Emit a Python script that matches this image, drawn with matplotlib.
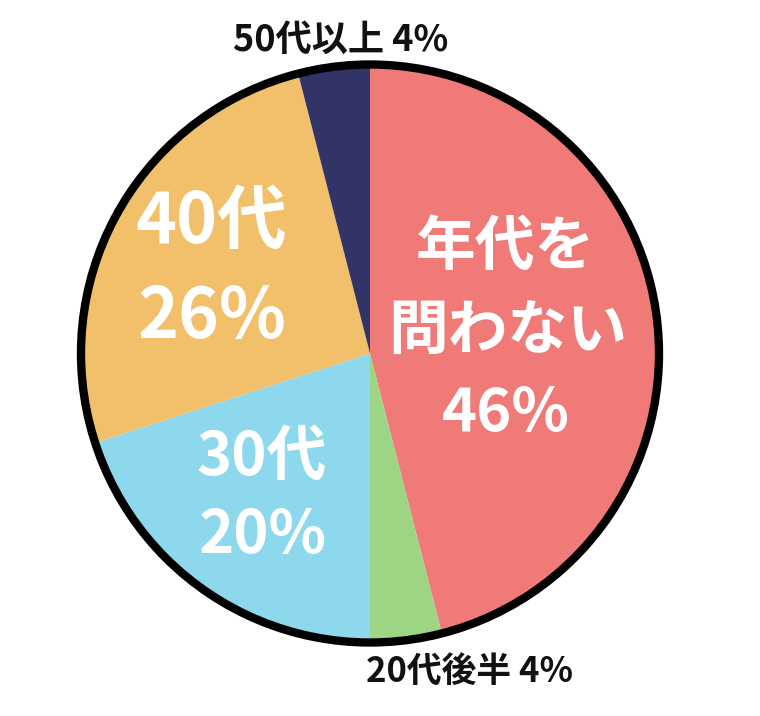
import matplotlib
matplotlib.use("Agg")
import matplotlib.pyplot as plt
from matplotlib.patches import Circle

plt.rcParams['font.family'] = ['Noto Sans CJK JP', 'DejaVu Sans']

categories = ["年代を問わない", "20代後半", "30代", "40代", "50代以上"]
values = [46, 4, 20, 26, 4]
colors = ["#EF7A78", "#9DD585", "#8ED8EE", "#F2BF6A", "#323468"]

W, H = 760, 716
fig = plt.figure(figsize=(W / 100, H / 100), dpi=100)
ax = fig.add_axes([0, 0, 1, 1])
ax.set_xlim(0, W)
ax.set_ylim(0, H)
ax.axis('off')

cx, cy, r = 370, H - 353.5, 289
ax.pie(values, colors=colors, startangle=90, counterclock=False,
       center=(cx, cy), radius=r, frame=True,
       wedgeprops=dict(linewidth=0))
ax.set_xlim(0, W)
ax.set_ylim(0, H)
ax.set_aspect('equal')
ax.axis('off')
ax.add_patch(Circle((cx, cy), r, fill=False, edgecolor='black', linewidth=6, zorder=5))

def T(x, y, s, size, color='white'):
    ax.text(x, H - y, s, fontsize=size, color=color, fontweight='bold',
            ha='center', va='center', zorder=6)

# inside labels
T(505, 248, "年代を", 43)
T(508, 332, "問わない", 43)
T(506, 414, f"{values[0]}%", 43)
T(211, 223, categories[3], 50)
T(212, 318, f"{values[3]}%", 50)
T(262, 458, categories[2], 43)
T(263, 536, f"{values[2]}%", 43)
# outside labels
T(341, 40, f"{categories[4]} {values[4]}%", 26, '#111111')
T(470, 671, f"{categories[1]} {values[1]}%", 25, '#111111')

fig.savefig("out.png", dpi=100)
